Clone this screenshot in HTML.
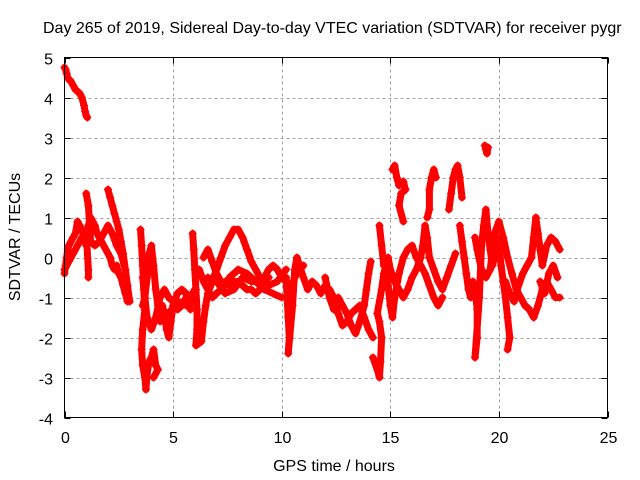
<!DOCTYPE html>
<html><head><meta charset="utf-8"><style>
body{margin:0;background:#fff;}
svg{display:block;font-family:"Liberation Sans",sans-serif;}
</style></head><body>
<svg id="chart" width="640" height="480" viewBox="0 0 640 480">
<rect width="640" height="480" fill="#fff"/>
<text x="43" y="33" font-size="16" fill="#000">Day 265 of 2019, Sidereal Day-to-day VTEC variation (SDTVAR) for receiver pygr</text>
<text x="334" y="471" font-size="16" text-anchor="middle">GPS time / hours</text>
<text transform="translate(20,237) rotate(-90)" font-size="16" text-anchor="middle">SDTVAR / TECUs</text>
<g id="grid"></g><g id="ticks"></g><g id="marks"></g>
<rect x="64.5" y="57.5" width="543" height="360" fill="none" stroke="#000" stroke-width="1"/>
</svg>
<script>
const xTicks=[0,5,10,15,20,25];
const yTicks=[-4,-3,-2,-1,0,1,2,3,4,5];
const trackTop=[[0,4.75],[0.05,4.7],[0.1,4.6],[0.15,4.5],[0.2,4.45],[0.3,4.4],[0.4,4.3],[0.5,4.2],[0.6,4.15],[0.7,4.1],[0.8,4.0],[0.9,3.8],[0.95,3.65],[1.0,3.55],[1.05,3.5]];
const trackA=[[0,-0.4],[0.05,-0.2],[0.1,0],[0.15,0.2],[0.2,0.3],[0.3,0.4],[0.4,0.5],[0.5,0.6],[0.6,0.9],[0.7,0.8],[0.8,0.7],[0.9,0.5],[1.0,0.3],[1.1,0.8],[1.2,1.0],[1.3,0.9],[1.4,0.8],[1.5,0.6],[1.6,0.5],[1.7,0.4],[1.8,0.3],[1.9,0.2],[2.0,0.1],[2.1,0],[2.2,-0.2],[2.3,-0.3],[2.4,-0.2],[2.5,-0.4],[2.6,-0.5],[2.7,-0.7],[2.8,-0.9],[2.9,-1.1]];
const trackB=[[0,-0.3],[0.2,-0.1],[0.4,0.1],[0.6,0.3],[0.8,0.5],[1.0,0.6],[1.1,-0.3],[1.1,-0.5]];
const trackB2=[[1.0,1.6],[1.1,1.3],[1.2,0.4],[1.4,0.3],[1.6,0.4],[1.8,0.6],[2.0,0.8],[2.2,0.6],[2.4,0.3],[2.6,0.1],[2.8,-0.3]];
const trackC=[[2.0,1.7],[2.1,1.5],[2.2,1.3],[2.3,1.1],[2.4,0.9],[2.5,0.7],[2.6,0.4],[2.7,0.1],[2.8,-0.3],[2.9,-0.7],[3.0,-1.1]];
const trackD=[[3.5,0.7],[3.55,0.3],[3.6,-0.2],[3.65,-0.8],[3.7,-1.3],[3.6,-1.8],[3.55,-2.3],[3.6,-2.7],[3.7,-3.0],[3.75,-3.3],[3.8,-2.9],[3.9,-2.6],[4.0,-2.5],[4.1,-2.3],[4.2,-2.7],[4.3,-2.8],[4.1,-3.0]];
const trackE=[[3.6,-1.2],[3.7,-1.0],[3.8,-0.5],[3.9,0.1],[4.0,0.3],[4.1,-0.2],[4.2,-0.8],[4.3,-1.2],[4.4,-1.6],[4.5,-1.2],[4.6,-1.4],[4.7,-1.8],[4.8,-2.0],[4.9,-1.6],[5.0,-1.2],[5.2,-0.9],[5.4,-0.8],[5.6,-0.9],[5.8,-1.0],[6.0,-0.8]];
const trackF=[[3.6,-0.5],[3.8,-1.5],[4.0,-1.8],[4.2,-1.5],[4.4,-1.0],[4.6,-0.8],[4.8,-1.0],[5.0,-1.1],[5.2,-1.3],[5.4,-1.2],[5.6,-1.0],[5.8,-1.3]];
const trackG=[[5.9,0.6],[5.95,0.2],[6.0,-0.3],[6.05,-0.8],[6.1,-1.3],[6.1,-1.8],[6.05,-2.2],[6.3,-2.1],[6.4,-1.6],[6.5,-1.2],[6.6,-0.9],[6.8,-0.6],[7.0,-0.3],[7.2,0],[7.4,0.3],[7.6,0.5],[7.8,0.7],[8.0,0.7],[8.2,0.5],[8.4,0.2],[8.6,-0.1],[8.8,-0.3],[9.0,-0.5],[9.2,-0.6],[9.4,-0.5]];
const trackH=[[6.2,-0.3],[6.4,-0.6],[6.6,-0.8],[6.8,-1.0],[7.0,-0.9],[7.2,-0.8],[7.4,-0.6],[7.6,-0.7],[7.8,-0.6],[8.0,-0.6],[8.2,-0.7],[8.4,-0.8],[8.6,-0.8],[8.8,-0.9],[9.0,-0.8],[9.2,-0.5],[9.4,-0.3],[9.6,-0.2],[9.8,-0.3],[10.0,-0.5],[10.2,-0.6],[10.4,-0.8],[10.6,-0.5],[10.8,-0.3],[11.0,-0.2]];
const trackI=[[6.4,0],[6.6,0.2],[6.8,-0.1],[7.0,-0.4],[7.2,-0.6],[7.4,-0.7],[7.6,-0.5],[7.8,-0.4],[8.0,-0.3],[8.4,-0.4],[8.8,-0.6],[9.2,-0.8],[9.6,-0.9],[10.0,-1.0]];
const trackI2=[[6.6,-0.5],[7.0,-0.6],[7.4,-0.9],[7.8,-0.8],[8.2,-0.5],[8.6,-0.6],[9.0,-0.6],[9.4,-0.7],[9.8,-0.6],[10.2,-0.3]];
const trackI3=[[4.4,-1.3],[4.8,-1.4],[5.2,-1.1],[5.6,-1.2],[6.0,-1.1]];
const trackJ=[[10.2,-0.5],[10.25,-1.0],[10.3,-1.5],[10.35,-2.0],[10.3,-2.4],[10.5,-1.2],[10.6,-0.3],[10.7,0],[11.0,-0.5],[11.2,-0.8],[11.4,-0.6],[11.6,-0.7],[11.8,-0.9],[12.0,-0.7],[12.2,-0.8],[12.4,-1.0],[12.6,-1.4],[12.8,-1.7],[13.0,-1.6],[13.2,-1.4],[13.4,-1.3],[13.6,-1.2],[13.8,-1.5],[14.0,-1.8],[14.2,-2.0]];
const trackK=[[12.0,-0.5],[12.2,-1.0],[12.4,-1.3],[12.6,-1.0],[12.8,-1.2],[13.0,-1.4],[13.2,-1.7],[13.4,-1.9],[13.6,-1.6],[13.8,-1.2],[13.9,-0.8],[14.0,-0.4],[14.1,-0.1]];
const trackL=[[14.2,-2.5],[14.4,-2.8],[14.5,-3.0],[14.55,-2.6],[14.6,-2.0],[14.5,-1.6],[14.4,-1.4],[14.6,-0.8],[14.7,-0.4],[14.8,-0.2],[14.9,-0.7],[15.0,-1.2],[15.1,-1.5],[15.2,-1.0],[15.4,-0.4],[15.6,0],[15.8,0.2],[16.0,0.3],[16.2,0],[16.4,-0.2],[16.6,-0.4],[16.8,-0.7],[17.0,-1.0],[17.2,-1.2],[17.4,-1.0]];
const trackM=[[14.5,0.8],[14.6,0.3],[14.7,-0.2],[14.9,0],[15.0,-0.3],[15.2,-0.6],[15.4,-0.8],[15.6,-1.0],[15.8,-0.8],[16.0,-0.5],[16.2,-0.3],[16.4,0],[16.5,0.3],[16.6,0.8],[16.7,0.5],[16.8,0],[17.0,-0.3],[17.2,-0.6],[17.4,-0.8],[17.6,-0.5],[17.8,-0.2],[18.0,0.1]];
const trackN1=[[15.1,2.2],[15.2,2.3],[15.3,2.0],[15.4,1.8],[15.6,1.9],[15.7,1.7],[15.5,1.6],[15.4,1.3],[15.6,0.9]];
const trackN2=[[16.7,1.0],[16.8,1.2],[16.8,1.7],[16.9,2.0],[17.0,2.2],[17.1,2.0]];
const trackN3=[[17.7,1.2],[17.8,1.6],[17.9,2.0],[18.0,2.2],[18.1,2.3],[18.2,2.0],[18.3,1.5]];
const trackN4=[[19.35,2.8],[19.4,2.7],[19.45,2.6],[19.5,2.75]];
const trackO=[[18.2,0.8],[18.3,0.4],[18.4,0],[18.5,-0.4],[18.6,-0.8],[18.7,-1.0],[18.8,-0.6],[18.9,-0.8],[19.0,-1.3],[19.0,-2.0],[18.9,-2.5],[19.1,-1.0],[19.2,0.3],[19.3,0.8],[19.4,1.2],[19.5,0.6],[19.6,0.2],[19.7,-0.2],[19.8,0],[19.9,0.5],[20.0,0.3],[20.1,-0.2],[20.2,-0.6],[20.3,-1.0],[20.4,-1.5],[20.5,-2.0],[20.4,-2.3]];
const trackP=[[18.9,0.5],[19.0,0.2],[19.2,-0.3],[19.4,-0.5],[19.6,-0.3],[19.8,0.6],[20.0,0.9],[20.2,0.5],[20.4,0],[20.6,-0.4],[20.8,-0.8],[21.0,-1.0],[21.2,-1.2],[21.4,-1.3],[21.6,-1.5],[21.8,-1.2],[22.0,-0.8],[22.2,-0.6],[22.4,-0.8],[22.6,-1.0],[22.8,-1.0]];
const trackQ=[[20.3,-0.6],[20.5,-0.9],[20.7,-1.1],[20.9,-0.7],[21.1,-0.4],[21.3,-0.2],[21.5,0],[21.6,0.5],[21.7,1.0],[21.8,0.6],[21.9,0.2],[22.0,-0.2],[22.2,0.3],[22.4,0.5],[22.6,0.4],[22.8,0.2]];
const trackR=[[21.9,-0.6],[22.1,-0.9],[22.3,-0.4],[22.5,-0.2],[22.7,-0.5]];
const tracks=[trackTop,trackA,trackB,trackB2,trackC,trackD,trackE,trackF,trackG,trackH,trackI,trackI2,trackI3,trackJ,trackK,trackL,trackM,trackN1,trackN2,trackN3,trackN4,trackO,trackP,trackQ,trackR];

const NS='http://www.w3.org/2000/svg';
const X0=64.5,X1=607.5,Y0=417.5,Y1=57.5;
function xs(t){return X0+(t-0)/(25-0)*(X1-X0);}
function ys(v){return Y0-(v-(-4))/(5-(-4))*(Y0-Y1);}
function mk(tag,attrs,parent){const e=document.createElementNS(NS,tag);for(const k in attrs)e.setAttribute(k,attrs[k]);parent.appendChild(e);return e;}
const grid=document.getElementById('grid'),ticks=document.getElementById('ticks'),marks=document.getElementById('marks');
xTicks.forEach(t=>{
  const x=Math.round(xs(t))+0.5;
  if(t>0&&t<25){const g=mk('line',{x1:x,x2:x,y1:Y1,y2:Y0,stroke:'#a0a0a0','stroke-dasharray':'3,3'},grid);
  
  }
  mk('line',{x1:x,x2:x,y1:Y0,y2:Y0-6,stroke:'#000'},ticks);
  mk('line',{x1:x,x2:x,y1:Y1,y2:Y1+6,stroke:'#000'},ticks);
  const l=mk('text',{x:x,y:443,'font-size':16,'text-anchor':'middle'},ticks);l.textContent=t;
  
  
});
yTicks.forEach(v=>{
  const y=Math.round(ys(v))+0.5;
  if(v>-4&&v<5){const g=mk('line',{x1:X0,x2:X1,y1:y,y2:y,stroke:'#a0a0a0','stroke-dasharray':'3,3'},grid);
  
  }
  mk('line',{x1:X0,x2:X0+6,y1:y,y2:y,stroke:'#000'},ticks);
  mk('line',{x1:X1,x2:X1-6,y1:y,y2:y,stroke:'#000'},ticks);
  const l=mk('text',{x:53,y:y+6,'font-size':16,'text-anchor':'end'},ticks);l.textContent=v;
  
  
});
tracks.forEach(tr=>{
  const pl=mk('polyline',{points:tr.map(p=>xs(p[0])+','+ys(p[1])).join(' '),stroke:'#ff0000','stroke-width':7,fill:'none','stroke-linejoin':'round','stroke-linecap':'round'},marks);
  
  
  tr.forEach(p=>{
    const x=xs(p[0]),y=ys(p[1]);
    const m=mk('path',{d:`M${x-4} ${y}H${x+4}M${x} ${y-4}V${y+4}`,stroke:'#ff0000','stroke-width':1.3,fill:'none'},marks);
    
    
  });
});
</script>
</body></html>
